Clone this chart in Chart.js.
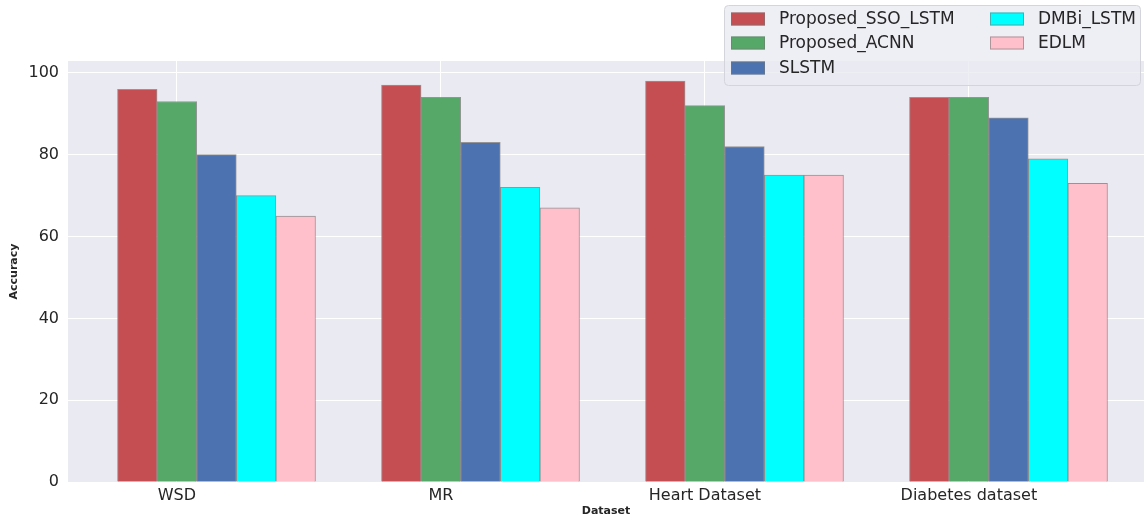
<!DOCTYPE html>
<html>
<head>
<meta charset="utf-8">
<script src="https://cdn.jsdelivr.net/npm/chart.js@4.4.1/dist/chart.umd.min.js"></script>
<style>
  html, body { margin: 0; padding: 0; background: #fff; }
  #wrap { width: 1144px; height: 522px; }
</style>
</head>
<body>
<div id="wrap"><canvas id="accuracyChart" width="1144" height="522"></canvas></div>
<script>
// chart data
const datasetNames = ['WSD', 'MR', 'Heart Dataset', 'Diabetes dataset'];
const methods = ['Proposed_SSO_LSTM', 'Proposed_ACNN', 'SLSTM', 'DMBi_LSTM', 'EDLM'];
const ssoLstm = [96, 97, 98, 94];
const acnn = [93, 94, 92, 94];
const slstm = [80, 83, 82, 89];
const dmbiLstm = [70, 72, 75, 79];
const edlm = [65, 67, 75, 73];
const yTicks = [0, 20, 40, 60, 80, 100];

const colors = ['#C44E52', '#55A868', '#4C72B0', '#00FFFF', '#FFC0CB'];
const barWidth = 0.15;

Chart.defaults.font.family = "'DejaVu Sans', sans-serif";
Chart.defaults.color = '#262626';

// bars sit side by side, tick is at the second bar of each group
let toPoints = (values, k) => values.map((v, i) => ({ x: i + k * barWidth, y: v }));

let series = [ssoLstm, acnn, slstm, dmbiLstm, edlm];
let datasets = series.map((values, k) => ({
  label: methods[k],
  data: toPoints(values, k),
  backgroundColor: colors[k],
  borderColor: 'rgba(120,120,120,0.75)',
  borderWidth: 1,
  grouped: false,
  barPercentage: 1,
  categoryPercentage: 1
}));

let plotBackground = {
  id: 'plotBackground',
  beforeDraw(chart) {
    let { ctx, chartArea: a } = chart;
    ctx.save();
    ctx.fillStyle = '#EAEAF2';
    ctx.fillRect(a.left, a.top, a.right - a.left, a.bottom - a.top);
    ctx.restore();
  }
};

// two column legend, filled column by column like matplotlib
let columnLegend = {
  id: 'columnLegend',
  afterDraw(chart) {
    let ctx = chart.ctx;
    let box = { x: 724, y: 5, w: 416, h: 80 };
    ctx.save();
    ctx.fillStyle = 'rgba(234,234,242,0.8)';
    ctx.strokeStyle = '#d4d4dc';
    ctx.lineWidth = 1;
    ctx.beginPath();
    ctx.roundRect(box.x + 0.5, box.y + 0.5, box.w, box.h, 4);
    ctx.fill();
    ctx.stroke();
    ctx.font = "17px 'DejaVu Sans'";
    ctx.textBaseline = 'middle';
    let cols = [731, 990];
    let rows = [19, 43, 68];
    chart.data.datasets.forEach((ds, i) => {
      let col = Math.floor(i / 3), row = i % 3;
      let x = cols[col], y = rows[row];
      ctx.fillStyle = ds.backgroundColor;
      ctx.fillRect(x, y - 6.5, 34, 13);
      ctx.strokeStyle = 'rgba(120,120,120,0.6)';
      ctx.strokeRect(x + 0.5, y - 6, 33, 12);
      ctx.fillStyle = '#262626';
      ctx.fillText(ds.label, x + 48, y + 1);
    });
    ctx.restore();
  }
};

new Chart('accuracyChart', {
  type: 'bar',
  data: { datasets },
  plugins: [plotBackground, columnLegend],
  options: {
    responsive: false,
    animation: false,
    layout: { padding: { top: 61, left: 0, right: 0, bottom: 0 } },
    plugins: {
      legend: { display: false },
      tooltip: { enabled: false }
    },
    scales: {
      x: {
        type: 'linear',
        offset: false,
        min: -0.2625,
        max: 3.8133,
        afterFit: (scale) => { scale.height = 40; },
        afterBuildTicks: (scale) => {
          scale.ticks = datasetNames.map((_, i) => ({ value: i + barWidth }));
        },
        ticks: {
          font: { size: 16 },
          padding: 4,
          maxRotation: 0,
          autoSkip: false,
          callback: (value, index) => datasetNames[index]
        },
        grid: { color: '#ffffff', lineWidth: 1, drawTicks: false, offset: false },
        border: { display: false },
        title: {
          display: true,
          text: 'Dataset',
          font: { size: 11, weight: 'bold' },
          padding: { top: 0, bottom: 4 }
        }
      },
      y: {
        min: 0,
        max: 102.9,
        afterFit: (scale) => { scale.width = 68; },
        afterBuildTicks: (scale) => {
          scale.ticks = yTicks.map(v => ({ value: v }));
        },
        ticks: { font: { size: 16 }, padding: 9 },
        grid: { color: '#ffffff', lineWidth: 1, drawTicks: false },
        border: { display: false },
        title: {
          display: true,
          text: 'Accuracy',
          font: { size: 11, weight: 'bold' },
          padding: { top: 8, bottom: 0 }
        }
      }
    }
  }
});
</script>
</body>
</html>
